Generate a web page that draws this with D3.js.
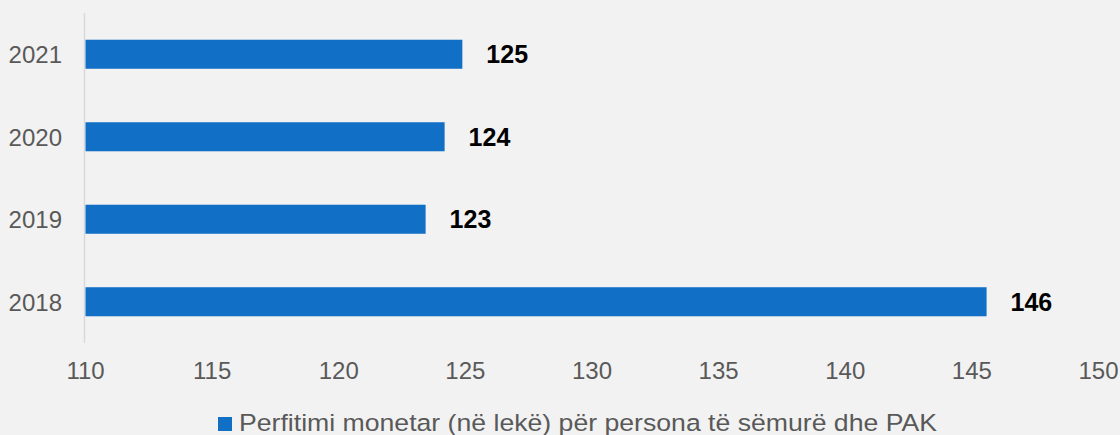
<!DOCTYPE html>
<html>
<head>
<meta charset="utf-8">
<script src="https://cdn.jsdelivr.net/npm/d3@7"></script>
<style>
  html, body { margin: 0; padding: 0; background: #f2f2f2; }
  svg { display: block; font-family: "Liberation Sans", Arial, sans-serif; }
</style>
</head>
<body>
<svg id="chart" width="1120" height="435"></svg>
<script>
// Monetary benefit (in lekë) per sick person and PAK, by year
const years = ["2021", "2020", "2019", "2018"];
const values = [124.9, 124.2, 123.45, 145.6];
const xTicks = [110, 115, 120, 125, 130, 135, 140, 145, 150];
const seriesName = "Perfitimi monetar (në lekë) për persona të sëmurë dhe PAK";

const W = 1120, H = 435;
const barColor = "#1170c6";
const textGray = "#595959";

const svg = d3.select("#chart");
svg.append("rect").attr("width", W).attr("height", H).attr("fill", "#f2f2f2");

const x = d3.scaleLinear().domain([110, 150]).range([85, 1098]);
const y = d3.scaleBand().domain(years).range([13, 343]).paddingInner(0.648).paddingOuter(0.324);

const data = years.map((yr, i) => ({ year: yr, value: values[i] }));
const fmt = d3.format(".0f");

// vertical category axis line
svg.append("line")
  .attr("x1", x(110) - 0.5).attr("x2", x(110) - 0.5)
  .attr("y1", 13).attr("y2", 343)
  .attr("stroke", "#d9d9d9").attr("stroke-width", 1.5);

// bars
svg.append("g").selectAll("rect").data(data).join("rect")
  .attr("x", x(110) + 0.5)
  .attr("y", d => y(d.year))
  .attr("width", d => x(d.value) - x(110) - 0.5)
  .attr("height", y.bandwidth())
  .attr("fill", barColor);

// value labels
svg.append("g").selectAll("text").data(data).join("text")
  .attr("x", d => x(d.value) + 24)
  .attr("y", d => y(d.year) + y.bandwidth() / 2 + 9)
  .attr("font-size", 25)
  .attr("font-weight", "bold")
  .attr("fill", "#000")
  .text(d => fmt(d.value));

// year labels
svg.append("g").selectAll("text").data(data).join("text")
  .attr("x", 62)
  .attr("y", d => y(d.year) + y.bandwidth() / 2 + 9)
  .attr("text-anchor", "end")
  .attr("font-size", 24)
  .attr("fill", textGray)
  .text(d => d.year);

// bottom value axis (labels only)
const xAxis = d3.axisBottom(x).tickValues(xTicks).tickSize(0).tickPadding(0).tickFormat(d3.format("d"));
const gx = svg.append("g").call(xAxis);
gx.select(".domain").remove();
gx.selectAll("text")
  .attr("y", 379)
  .attr("dy", null)
  .attr("font-size", 24)
  .attr("font-family", "Liberation Sans, Arial, sans-serif")
  .attr("fill", textGray);

// legend
const legend = svg.append("g");
legend.append("rect")
  .attr("x", 218).attr("y", 417).attr("width", 14).attr("height", 14)
  .attr("fill", barColor);
legend.append("text")
  .attr("x", 239).attr("y", 431)
  .attr("font-size", 24.5)
  .attr("textLength", 698)
  .attr("lengthAdjust", "spacingAndGlyphs")
  .attr("fill", textGray)
  .text(seriesName);
</script>
</body>
</html>
